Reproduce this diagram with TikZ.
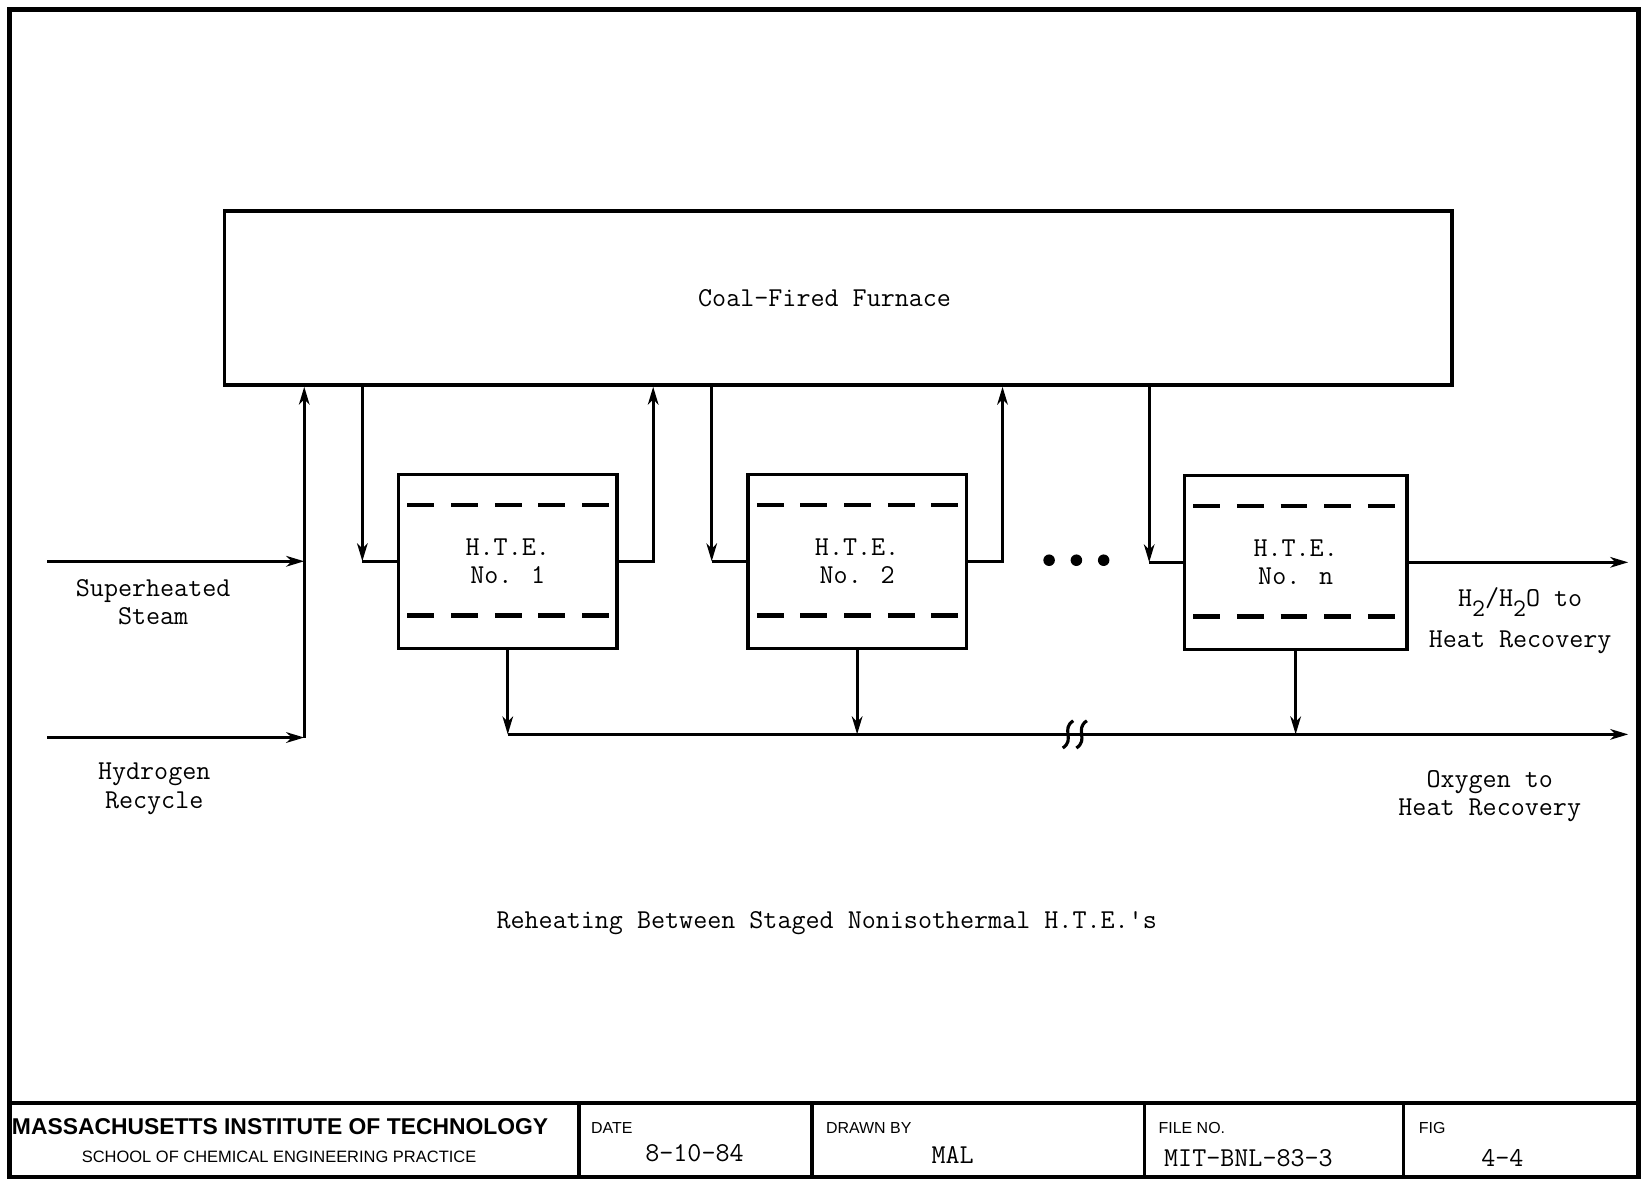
\documentclass[tikz,border=0pt]{standalone}
\usepackage{fontspec}
\newfontfamily\tbsans{Liberation Sans}
\usetikzlibrary{arrows.meta,calc}
\newcommand\subs[1]{\raisebox{-0.8ex}{\fontsize{12}{12}\selectfont #1}}
\begin{document}
\begin{tikzpicture}[x=0.5pt,y=-0.5pt,
  ln/.style={line width=1.5pt},
  arr/.style={line width=1.5pt,-{Stealth[length=8.5pt,width=5pt,inset=2.5pt]}},
  txt/.style={font=\ttfamily\fontsize{13}{13.5}\selectfont, align=center, inner sep=0pt},
  box/.style={draw, line width=1.6pt, minimum width=104pt, minimum height=83pt, inner sep=0pt, txt},
  dsh/.style={line width=2pt, dash pattern=on 12.8pt off 8pt},
  dot/.style={circle, fill, inner sep=0pt, minimum size=5.5pt},
  small/.style={font=\tbsans\fontsize{7.6}{9}\selectfont, inner sep=0pt, anchor=west}]
\useasboundingbox (0,0) rectangle (1568,1124);
% frame
\draw[line width=2.2pt] (9,1122) -- (9,9) -- (1562,9) -- (1562,1122) -- cycle;
% title block
\draw[line width=1.8pt] (9,1051) -- (1562,1051);
\foreach \xx in {552,774,1091,1338} \draw[line width=1.6pt] (\xx,1051) -- (\xx,1122);
\node[anchor=west, font=\tbsans\bfseries\fontsize{10.9}{12}\selectfont, inner sep=0pt] (mit) at (11,1074) {MASSACHUSETTS INSTITUTE OF TECHNOLOGY};
\node[font=\tbsans\fontsize{7.85}{9}\selectfont, inner sep=0pt] (sch) at (266,1103) {SCHOOL OF CHEMICAL ENGINEERING PRACTICE};
\node[small] (datel) at (563,1075) {DATE};
\node[txt] (date) at (662,1099) {8-10-84};
\node[small] (drawnl) at (787,1075) {DRAWN BY};
\node[txt] (drawn) at (908,1101) {MAL};
\node[small] (filel) at (1104,1075) {FILE NO.};
\node[txt] (file) at (1190,1104) {MIT-BNL-83-3};
\node[small] (figl) at (1352,1075) {FIG};
\node[txt] (fig) at (1432,1104) {4-4};
% furnace
\node[box, minimum width=585pt] (f) at (799,284) {Coal-Fired Furnace\hspace*{13pt}};
% exchangers
\node[box] (h1) at (484,535) {H.T.E.\\No. 1};
\node[box] (h2) at (817,535) {H.T.E.\\No. 2};
\node[box, minimum width=106pt] (hn) at (1235,536) {H.T.E.\\No. n};
\foreach \h in {h1,h2,hn}{
  \draw[dsh] ($(\h.north west)+(10,31)$) -- ($(\h.north east)+(-6,31)$);
  \draw[dsh] ($(\h.south west)+(10,-33)$) -- ($(\h.south east)+(-6,-33)$);
}
% furnace to exchangers and back
\foreach \h/\d in {h1/33,h2/33,hn/32}{
  \coordinate (i\h) at ($(\h.west)+(-\d,0)$);
  \draw[arr] (i\h |- f.south) -- (i\h);
  \draw[ln] (i\h) -- (\h.west);
}
\foreach \h in {h1,h2}{
  \coordinate (o\h) at ($(\h.east)+(33,0)$);
  \draw[arr] (\h.east) -- (o\h) -- (o\h |- f.south);
}
% dots
\node[dot] (d1) at (1000,534) {};
\node[dot] (d2) at (1026,534) {};
\node[dot] (d3) at (1052,534) {};
% feeds
\coordinate (s0) at (45,535);
\coordinate (s1) at (290,535);
\coordinate (r0) at (45,703);
\coordinate (r1) at (290,703);
\draw[arr] (s0) -- (s1);
\draw[arr] (r0) -- (r1);
\draw[arr] (r1) -- (r1 |- f.south);
% products
\coordinate (b) at (1552,700);
\foreach \h in {h1,h2,hn} \draw[arr] (\h.south) -- (\h.south |- b);
\draw[arr] (h1.south |- b) -- (b);
\draw[arr] (hn.east) -- (hn.east -| b);
% break mark
\coordinate (brk) at (1025,700);
\foreach \dx in {-7,6}{
  \draw[ln] ($(brk)+(\dx+5,-13)$) .. controls ($(brk)+(\dx-7,-5)$) and ($(brk)+(\dx+7,5)$) .. ($(brk)+(\dx-5,13)$);
}
% labels
\node[txt] (lsteam) at (146,574) {Superheated\\Steam};
\node[txt] (lhyd) at (147,752) {Hydrogen\\Recycle};
\node[txt, align=center] (lh2o) at (1449,592) {H\subs{2}/H\subs{2}O to\\[6pt]Heat Recovery};
\node[txt] (lox) at (1420,759) {Oxygen to\\Heat Recovery};
\node[txt] (cap) at (788,880) {Reheating Between Staged Nonisothermal H.T.E.'s};
\end{tikzpicture}
\end{document}
